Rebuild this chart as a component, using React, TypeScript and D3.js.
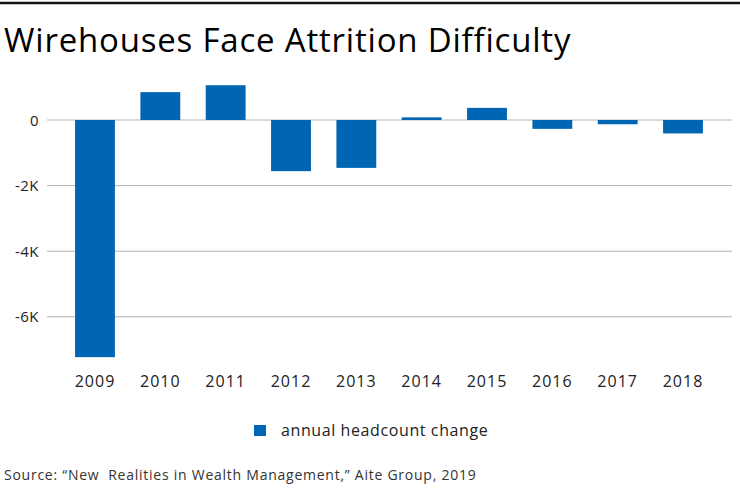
import React, { useRef, useEffect } from 'react';
import * as d3 from 'd3';

const years = ['2009', '2010', '2011', '2012', '2013', '2014', '2015', '2016', '2017', '2018'];
const headcountChange = [-7230, 850, 1060, -1560, -1460, 80, 370, -270, -130, -410];
const yTicks = [0, -2000, -4000, -6000];
const yTickLabels = ['0', '-2K', '-4K', '-6K'];

const FONT = '"Open Sans", "Noto Sans", sans-serif';
const BLUE = '#0066b3';

export default function App() {
  const ref = useRef<SVGSVGElement>(null);

  useEffect(() => {
    if (!ref.current) return;
    const svg = d3.select(ref.current);
    svg.selectAll('*').remove();

    const width = 740;

    // Top rule
    svg.append('line')
      .attr('x1', 0).attr('x2', width)
      .attr('y1', 3).attr('y2', 3)
      .attr('stroke', '#111')
      .attr('stroke-width', 2.5);

    // Title
    svg.append('text')
      .attr('x', 4).attr('y', 52)
      .attr('font-family', FONT)
      .attr('font-size', '33px')
      .attr('font-weight', 500)
      .attr('letter-spacing', '0.8px')
      .attr('fill', '#000')
      .text('Wirehouses Face Attrition Difficulty');

    const x = d3.scaleBand<string>().domain(years).range([62, 716]).paddingInner(0.39).paddingOuter(0.2);
    const y = d3.scaleLinear().domain([-6000, 0]).range([316.8, 120]);

    // Gridlines
    svg.append('g')
      .selectAll('line')
      .data(yTicks)
      .enter()
      .append('line')
      .attr('x1', 47).attr('x2', 732)
      .attr('y1', (d) => y(d)).attr('y2', (d) => y(d))
      .attr('stroke', '#b3b3b3')
      .attr('stroke-width', 1);

    // Y labels
    svg.append('g')
      .selectAll('text')
      .data(yTicks)
      .enter()
      .append('text')
      .attr('x', 39)
      .attr('y', (d) => y(d) + 5.5)
      .attr('text-anchor', 'end')
      .attr('font-family', FONT)
      .attr('font-size', '15px')
      .attr('font-weight', 500)
      .attr('letter-spacing', '0.5px')
      .attr('fill', '#222')
      .text((_, i) => yTickLabels[i]);

    // Bars
    svg.append('g')
      .selectAll('rect')
      .data(headcountChange)
      .enter()
      .append('rect')
      .attr('x', (_, i) => x(years[i])!)
      .attr('y', (d) => (d >= 0 ? y(d) : y(0)))
      .attr('width', x.bandwidth())
      .attr('height', (d) => Math.abs(y(d) - y(0)))
      .attr('fill', BLUE);

    // X labels
    svg.append('g')
      .selectAll('text')
      .data(years)
      .enter()
      .append('text')
      .attr('x', (d) => x(d)! + x.bandwidth() / 2)
      .attr('y', 387)
      .attr('text-anchor', 'middle')
      .attr('font-family', FONT)
      .attr('font-size', '16px')
      .attr('font-weight', 500)
      .attr('letter-spacing', '1px')
      .attr('fill', '#222')
      .text((d) => d);

    // Legend
    svg.append('rect')
      .attr('x', 254).attr('y', 425)
      .attr('width', 12).attr('height', 11)
      .attr('fill', BLUE);
    svg.append('text')
      .attr('x', 281).attr('y', 436)
      .attr('font-family', FONT)
      .attr('font-size', '16px')
      .attr('font-weight', 500)
      .attr('letter-spacing', '0.6px')
      .attr('fill', '#222')
      .text('annual headcount change');

    // Source
    svg.append('text')
      .attr('x', 4).attr('y', 480)
      .attr('font-family', FONT)
      .attr('font-size', '14px')
      .attr('letter-spacing', '0.75px')
      .attr('fill', '#333')
      .style('white-space', 'pre')
      .text('Source: \u201cNew  Realities in Wealth Management,\u201d Aite Group, 2019');
  }, []);

  return (
    <svg
      ref={ref}
      width={740}
      height={493}
      style={{ position: 'absolute', left: 0, top: 0, background: '#fff' }}
    />
  );
}
